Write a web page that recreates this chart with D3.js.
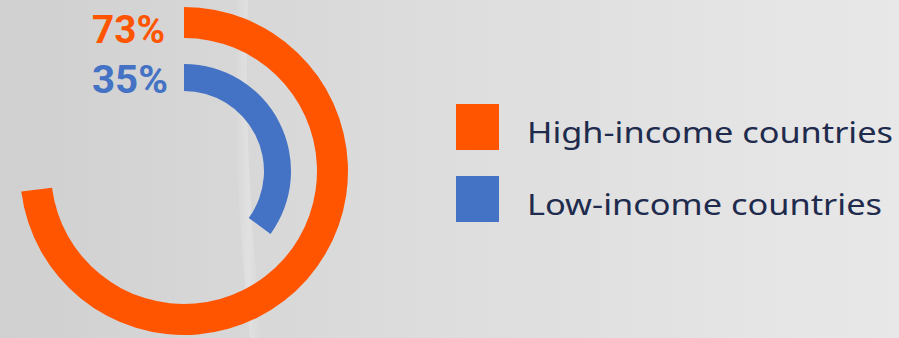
<!DOCTYPE html>
<html><head><meta charset="utf-8">
<script src="https://cdn.jsdelivr.net/npm/d3@7"></script>
<style>html,body{margin:0;padding:0;overflow:hidden;}svg{display:block;}</style>
</head><body>
<svg id="c" width="899" height="338"></svg>
<script>
const categories = ["High-income countries", "Low-income countries"];
const values = [73, 35];
const labels = ["73%", "35%"];
const colors = ["#ff5500", "#4472c4"];

const W = 899, H = 338;
const svg = d3.select("#c");
const defs = svg.append("defs");
const g1 = defs.append("linearGradient").attr("id","bg").attr("x1","0").attr("x2","1").attr("y1","0").attr("y2","0");
g1.append("stop").attr("offset","0").attr("stop-color","#d0d0d0");
g1.append("stop").attr("offset","0.45").attr("stop-color","#dcdcdc");
g1.append("stop").attr("offset","1").attr("stop-color","#e8e8e8");
svg.append("rect").attr("width",W).attr("height",H).attr("fill","url(#bg)");
const g2 = defs.append("linearGradient").attr("id","streak").attr("x1","0").attr("x2","1");
g2.append("stop").attr("offset","0").attr("stop-color","#ffffff").attr("stop-opacity",0);
g2.append("stop").attr("offset","0.5").attr("stop-color","#ffffff").attr("stop-opacity",0.25);
g2.append("stop").attr("offset","1").attr("stop-color","#ffffff").attr("stop-opacity",0);
svg.append("path").attr("d","M236,0 C232,80 236,200 250,338 L262,338 C248,200 244,80 248,0 Z").attr("fill","url(#streak)");

const cx = 184, cy = 171;
const angle = d3.scaleLinear().domain([0,100]).range([0, 2*Math.PI]);
const rings = [[133,164],[80,107]];
const labelDy = [36, 29];
const chart = svg.append("g").attr("transform",`translate(${cx},${cy})`);
values.forEach((v,i)=>{
  chart.append("path")
    .attr("d", d3.arc()({innerRadius:rings[i][0], outerRadius:rings[i][1], startAngle:0, endAngle:angle(v)}))
    .attr("fill", colors[i]);
  chart.append("text")
    .attr("x", -92).attr("y", -rings[i][1] + labelDy[i])
    .attr("textLength", i===0 ? 73 : 76).attr("lengthAdjust","spacingAndGlyphs")
    .attr("font-family","Roboto, 'Open Sans', sans-serif")
    .attr("font-weight","bold").attr("font-size", 39)
    .attr("fill", colors[i]).text(labels[i]);
});

const legend = svg.append("g");
const tl = [366, 355];
categories.forEach((c,i)=>{
  const y = 104 + i*72;
  legend.append("rect").attr("x",456).attr("y",y).attr("width",43).attr("height",46).attr("fill",colors[i]);
  legend.append("text").attr("x",527).attr("y",y+39)
    .attr("textLength", tl[i]).attr("lengthAdjust","spacingAndGlyphs")
    .attr("font-family","'Noto Sans', 'Open Sans', sans-serif").attr("font-size",29)
    .attr("fill","#1f2b4d").text(c);
});
</script>
</body></html>
